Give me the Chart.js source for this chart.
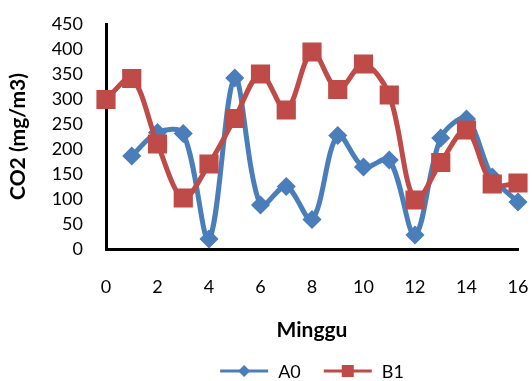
<!DOCTYPE html>
<html>
<head>
<meta charset="utf-8">
<script src="https://cdn.jsdelivr.net/npm/chart.js@4"></script>
<style>
  html, body { margin: 0; padding: 0; background: #fff; }
  #wrap { width: 532px; height: 381px; }
</style>
</head>
<body>
<div id="wrap"><canvas id="c" width="532" height="381"></canvas></div>
<script>
// Weekly CO2 readings (mg/m3)
const weeksA0 = [1, 2, 3, 4, 5, 6, 7, 8, 9, 10, 11, 12, 13, 14, 15, 16];
const valuesA0 = [186, 233, 231, 20, 342, 88, 125, 59, 227, 164, 178, 28, 222, 260, 144, 94];
const weeksB1 = [0, 1, 2, 3, 4, 5, 6, 7, 8, 9, 10, 11, 12, 13, 14, 15, 16];
const valuesB1 = [299, 341, 210, 102, 170, 261, 350, 278, 394, 319, 370, 308, 98, 173, 238, 130, 132];

const seriesNames = ['A0', 'B1'];
const BLUE = '#4A7EBB';
const RED = '#BE4B48';
const FONT = 'Lato, "Open Sans", "Liberation Sans", sans-serif';

function pairUp(xs, ys) {
  return xs.map((x, i) => ({ x: x, y: ys[i] }));
}

// Bottom legend: a line with the series marker, then the series name
const lineLegend = {
  id: 'lineLegend',
  afterDraw(chart) {
    const ctx = chart.ctx;
    const area = chart.chartArea;
    const lineW = 48, textGap = 10, itemGap = 23;
    ctx.save();
    ctx.font = '18px ' + FONT;
    const items = chart.data.datasets.map(ds => ({
      ds: ds,
      textW: ctx.measureText(ds.label).width
    }));
    const total = items.reduce((s, it) => s + lineW + textGap + it.textW, 0) + itemGap * (items.length - 1);
    let x = (area.left + area.right) / 2 - total / 2;
    const y = chart.height - 10;
    items.forEach(it => {
      const c = it.ds.borderColor;
      ctx.strokeStyle = c;
      ctx.lineWidth = 3;
      ctx.beginPath();
      ctx.moveTo(x, y);
      ctx.lineTo(x + lineW, y);
      ctx.stroke();
      ctx.fillStyle = c;
      const cx = x + lineW / 2;
      if (it.ds.pointStyle === 'rectRot') {
        ctx.beginPath();
        ctx.moveTo(cx, y - 6); ctx.lineTo(cx + 6, y); ctx.lineTo(cx, y + 6); ctx.lineTo(cx - 6, y);
        ctx.closePath();
        ctx.fill();
      } else {
        ctx.fillRect(cx - 6, y - 6, 12, 12);
      }
      ctx.fillStyle = '#000';
      ctx.textBaseline = 'middle';
      ctx.textAlign = 'left';
      ctx.fillText(it.ds.label, x + lineW + textGap, y + 1);
      x += lineW + textGap + it.textW + itemGap;
    });
    ctx.restore();
  }
};

new Chart(document.getElementById('c'), {
  type: 'line',
  data: {
    datasets: [
      {
        label: seriesNames[0],
        data: pairUp(weeksA0, valuesA0),
        borderColor: BLUE,
        backgroundColor: BLUE,
        borderWidth: 5,
        tension: 0.33,
        pointStyle: 'rectRot',
        pointRadius: 8.5,
        pointBorderWidth: 1.5,
        pointBackgroundColor: BLUE,
        pointBorderColor: BLUE,
        clip: false,
        order: 1
      },
      {
        label: seriesNames[1],
        data: pairUp(weeksB1, valuesB1),
        borderColor: RED,
        backgroundColor: RED,
        borderWidth: 5,
        tension: 0.33,
        pointStyle: 'rect',
        pointRadius: 12.5,
        pointBorderWidth: 1.5,
        pointBackgroundColor: RED,
        pointBorderColor: RED,
        clip: false,
        order: 0
      }
    ]
  },
  options: {
    responsive: false,
    animation: false,
    layout: { padding: { top: 24, right: 10.5, left: 0, bottom: 38 } },
    plugins: {
      tooltip: { enabled: false },
      legend: { display: false }
    },
    scales: {
      x: {
        type: 'linear',
        min: 0,
        max: 16,
        grid: { display: false, drawTicks: false },
        border: { display: true, color: '#000', width: 3 },
        ticks: { stepSize: 2, autoSkip: false, color: '#000', padding: 27, maxRotation: 0, minRotation: 0, font: { family: FONT, size: 18 } },
        title: { display: true, text: 'Minggu', color: '#000', padding: { top: 20, bottom: 0 }, font: { family: FONT, size: 21, weight: 'bold' } },
        afterFit: (scale) => {
          scale.height = 94;
          scale.paddingRight = 0;
        }
      },
      y: {
        min: 0,
        max: 450,
        grid: { display: false, drawTicks: false },
        border: { display: true, color: '#000', width: 3 },
        ticks: { stepSize: 50, autoSkip: false, color: '#000', padding: 23, font: { family: FONT, size: 18 } },
        title: { display: true, text: 'CO2 (mg/m3)', color: '#000', padding: { top: 6, bottom: 0 }, font: { family: FONT, size: 21, weight: 'bold' } },
        afterFit: (scale) => {
          scale.width = 106;
          scale.paddingTop = 0;
        }
      }
    }
  },
  plugins: [lineLegend]
});
</script>
</body>
</html>
